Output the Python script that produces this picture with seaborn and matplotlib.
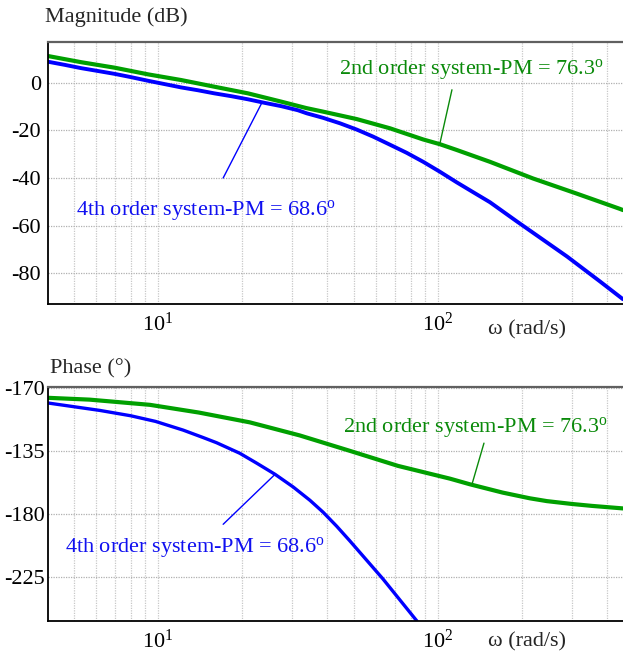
import numpy as np
import pandas as pd
import matplotlib
matplotlib.use("Agg")
import matplotlib.pyplot as plt
from matplotlib.ticker import LogLocator, NullFormatter, FixedLocator, FixedFormatter
import seaborn as sns

# ---------------- data ----------------
mag2_w = [4.05, 5.32, 7.0, 9.21, 12.1, 15.9, 20.96, 27.6, 33.9, 38.9, 51.2, 67.4, 88.6,
          101.7, 116.6, 153.4, 218.5, 313.6, 446.7, 458]
mag2_db = [11.3, 8.7, 6.4, 3.6, 1.2, -1.6, -4.4, -7.9, -10.6, -12.1, -15.2, -19.1, -23.8,
           -25.8, -28.2, -33.2, -40.2, -46.6, -53.0, -53.5]

mag4_w = [4.05, 4.64, 5.32, 6.11, 7.0, 8.03, 9.21, 10.56, 12.1, 13.9, 15.9, 18.3, 20.96,
          24.05, 27.6, 31.6, 34.0, 38.9, 44.7, 51.2, 58.7, 67.4, 77.3, 88.6, 101.7, 116.6,
          133.7, 153.4, 191.5, 288.9, 378.9, 458]
mag4_db = [8.9, 7.6, 6.2, 5.0, 3.8, 2.4, 0.9, -0.5, -1.9, -3.1, -4.4, -5.6, -6.9,
           -8.4, -9.8, -11.5, -12.8, -14.7, -17.0, -19.6, -22.6, -26.0, -29.4, -33.2, -37.4, -41.8,
           -46.0, -50.2, -58.3, -73.0, -83.5, -91.0]

ph2_w = [4.05, 5.7, 9.36, 14.0, 21.3, 32.1, 48.5, 72.0, 110.4, 130, 170, 213, 245, 300, 354.8, 458]
ph2_deg = [-97.0, -98.3, -102.0, -107.5, -114.5, -123.8, -134.8, -145.5, -154.6, -158.6, -164.5,
           -168.6, -170.6, -172.6, -174.0, -175.8]

ph4_w = [4.05, 6.21, 8.0, 9.8, 12.3, 14.5, 16.2, 19.6, 22.5, 26.2, 30.4, 34.9, 38.9, 43.5,
         48.5, 63.6, 84.1]
ph4_deg = [-100.7, -106.0, -109.8, -113.8, -120.0, -125.3, -129.0, -136.5, -143.5, -151.5,
           -160.5, -170.0, -178.5, -188.5, -199.0, -226.0, -256.0]

mag_ticks = [0, -20, -40, -60, -80]
mag_ticklabels = ["0", "-20", "-40", "-60", "-80"]
ph_ticks = [-90, -135, -180, -225]
ph_ticklabels = ["-170", "-135", "-180", "-225"]
x_ticks = [10, 100]
x_ticklabels = ["$10^1$", "$10^2$"]

label2 = "2nd order system-PM = 76.3$^{\\mathrm{o}}$"
label4 = "4th order system-PM = 68.6$^{\\mathrm{o}}$"

# ---------------- style ----------------
sns.set_style("white")
plt.rcParams["font.family"] = ["Liberation Serif", "DejaVu Serif"]
plt.rcParams["mathtext.fontset"] = "custom"
plt.rcParams["mathtext.rm"] = "Liberation Serif"
plt.rcParams["mathtext.it"] = "Liberation Serif:italic"
plt.rcParams["axes.unicode_minus"] = False

GREEN = "#00a000"
GREEN_T = "#0a8a0a"
BLUE = "#0000ff"
BLUE_T = "#1010f0"
FS = 16

fig = plt.figure(figsize=(6.23, 6.55), dpi=100)
W, H = 623, 655
def rect(l, t, r, b):
    return [l / W, (H - b) / H, (r - l) / W, (b - t) / H]

ax1 = fig.add_axes(rect(48, 42, 623, 304))
ax2 = fig.add_axes(rect(48, 387, 623, 621))

XMIN, XMAX = 4.05, 458

def style_axis(ax, yticks, ylabels, ylim):
    ax.set_xscale("log")
    ax.set_xlim(XMIN, XMAX)
    ax.set_ylim(*ylim)
    ax.xaxis.set_major_locator(FixedLocator(x_ticks))
    ax.xaxis.set_major_formatter(FixedFormatter(x_ticklabels))
    ax.xaxis.set_minor_locator(LogLocator(base=10, subs=np.arange(2, 10)))
    ax.xaxis.set_minor_formatter(NullFormatter())
    ax.yaxis.set_major_locator(FixedLocator(yticks))
    ax.yaxis.set_major_formatter(FixedFormatter(ylabels))
    ax.tick_params(axis="both", which="both", length=0, labelsize=FS, colors="black")
    ax.tick_params(axis="x", pad=6)
    ax.grid(True, which="both", axis="x", color="#c8c8c8", linestyle=(0, (1, 1)), linewidth=0.9)
    ax.grid(True, which="major", axis="y", color="#b0b0b0", linestyle=(0, (1, 1)), linewidth=0.9)
    ax.set_axisbelow(True)
    for s in ["left", "bottom"]:
        ax.spines[s].set_color("black")
        ax.spines[s].set_linewidth(1.3)
    ax.spines["top"].set_color("#606060")
    ax.spines["top"].set_linewidth(1.6)
    ax.spines["right"].set_visible(False)
    ax.set_xlabel("")
    ax.set_ylabel("")

# ---------------- magnitude ----------------
sns.lineplot(x=mag2_w, y=mag2_db, ax=ax1, color=GREEN, linewidth=3.0, estimator=None, sort=False)
sns.lineplot(x=mag4_w, y=mag4_db, ax=ax1, color=BLUE, linewidth=2.8, estimator=None, sort=False)
style_axis(ax1, mag_ticks, mag_ticklabels, (-93, 17.2))
ax1.tick_params(axis="y", pad=5)

ax1.plot([112.2, 101.7], [-2.9, -25.3], color=GREEN_T, linewidth=1.0)
ax1.plot([23.5, 17.1], [-8.4, -40.0], color=BLUE, linewidth=1.0)
ax1.text(0.506, 0.895, label2, transform=ax1.transAxes, color=GREEN_T, fontsize=FS,
         ha="left", va="center")
ax1.text(0.0487, 0.357, label4, transform=ax1.transAxes, color=BLUE_T, fontsize=FS,
         ha="left", va="center")

# ---------------- phase ----------------
sns.lineplot(x=ph2_w, y=ph2_deg, ax=ax2, color=GREEN, linewidth=3.0, estimator=None, sort=False)
sns.lineplot(x=ph4_w, y=ph4_deg, ax=ax2, color=BLUE, linewidth=2.4, estimator=None, sort=False)
style_axis(ax2, ph_ticks, ph_ticklabels, (-256, -89.3))
ax2.tick_params(axis="y", pad=2)

ax2.plot([146, 132.3], [-129.3, -158.6], color=GREEN_T, linewidth=1.0)
ax2.plot([26.2, 17.1], [-151.5, -187.1], color=BLUE, linewidth=1.0)
ax2.text(0.513, 0.827, label2, transform=ax2.transAxes, color=GREEN_T, fontsize=FS,
         ha="left", va="center")
ax2.text(0.0296, 0.314, label4, transform=ax2.transAxes, color=BLUE_T, fontsize=FS,
         ha="left", va="center")

# ---------------- titles / axis labels ----------------
fig.text(45 / W, 1 - 17 / H, "Magnitude (dB)", fontsize=FS, ha="left", va="center")
fig.text(50 / W, 1 - 369 / H, "Phase (°)", fontsize=FS, ha="left", va="center")
fig.text(488 / W, 1 - 330 / H, "ω (rad/s)", fontsize=FS, ha="left", va="center")
fig.text(488 / W, 1 - 642 / H, "ω (rad/s)", fontsize=FS, ha="left", va="center")

fig.savefig("out.png", dpi=100)
